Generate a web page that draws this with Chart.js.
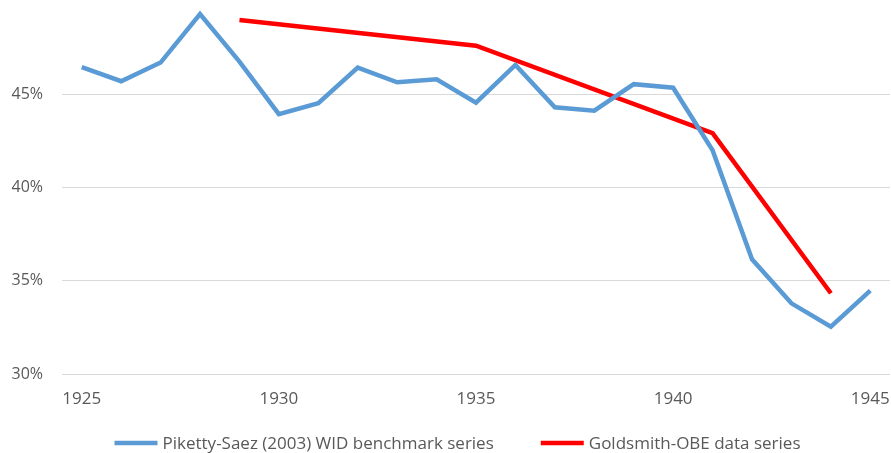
<!DOCTYPE html>
<html>
<head>
<meta charset="utf-8">
<script src="https://cdn.jsdelivr.net/npm/chart.js@4"></script>
<style>
  html, body { margin: 0; padding: 0; background: #fff; }
  #wrap { width: 891px; height: 453px; }
</style>
</head>
<body>
<div id="wrap"><canvas id="myChart"></canvas></div>
<script>
// years on the category axis
const years = [1925, 1926, 1927, 1928, 1929, 1930, 1931, 1932, 1933, 1934, 1935,
  1936, 1937, 1938, 1939, 1940, 1941, 1942, 1943, 1944, 1945]
// Piketty-Saez (2003) WID benchmark series, percent
const pikettySaez = [46.45, 45.7, 46.7, 49.3, 46.75, 43.93, 44.52, 46.43, 45.64, 45.8, 44.55,
  46.57, 44.3, 44.12, 45.54, 45.35, 42.0, 36.15, 33.79, 32.54, 34.47]
// Goldsmith-OBE data series, only a few years
const goldsmithObe = [null, null, null, null, 48.98, null, null, null, null, null, 47.6,
  null, null, null, null, null, 42.91, null, null, 34.33, null]
const yTicks = [30, 35, 40, 45]

const textColor = "#595959"
const fontFamily = "'Open Sans', 'DejaVu Sans', sans-serif"

// legend drawn by hand so the gap between the two entries can be wider than the row padding
const bottomLegend = {
  id: "bottomLegend",
  afterDraw(chart) {
    const c = chart.ctx
    const sets = chart.data.datasets
    const lineLen = 43, textGap = 5, itemGap = 47
    c.save()
    c.font = "17px " + fontFamily
    c.textBaseline = "middle"
    c.fillStyle = textColor
    let total = 0
    sets.forEach((ds, i) => {
      total += lineLen + textGap + c.measureText(ds.label).width + (i > 0 ? itemGap : 0)
    })
    let x = chart.width / 2 + 12 - total / 2
    const y = chart.height - 10
    sets.forEach((ds, i) => {
      if (i > 0) x += itemGap
      c.strokeStyle = ds.borderColor
      c.lineWidth = ds.borderWidth
      c.beginPath()
      c.moveTo(x, y)
      c.lineTo(x + lineLen, y)
      c.stroke()
      x += lineLen + textGap
      c.fillText(ds.label, x, y + 1)
      x += c.measureText(ds.label).width
    })
    c.restore()
  }
}

const ctx = document.getElementById("myChart").getContext("2d")
new Chart(ctx, {
  type: "line",
  data: {
    labels: years.map(String),
    datasets: [
      {
        label: "Piketty-Saez (2003) WID benchmark series",
        data: pikettySaez,
        borderColor: "#5b9bd5",
        backgroundColor: "#5b9bd5",
        borderWidth: 4.5,
        pointRadius: 0,
        tension: 0
      },
      {
        label: "Goldsmith-OBE data series",
        data: goldsmithObe,
        borderColor: "#ff0000",
        backgroundColor: "#ff0000",
        borderWidth: 4.5,
        pointRadius: 0,
        spanGaps: true,
        tension: 0
      }
    ]
  },
  options: {
    responsive: true,
    maintainAspectRatio: false,
    animation: false,
    layout: { padding: { top: 1, left: 11.5, right: 1, bottom: 43.6 } },
    plugins: {
      tooltip: { enabled: false },
      legend: { display: false }
    },
    scales: {
      x: {
        offset: true,
        grid: { display: false, drawTicks: false },
        border: { display: false },
        ticks: {
          color: textColor,
          font: { family: fontFamily, size: 17 },
          autoSkip: false,
          maxRotation: 0,
          padding: 15,
          callback: (v, i) => (years[i] % 5 === 0 ? years[i] : "")
        },
        // the tick padding gets counted twice in the box size, take one back
        afterFit: (s) => {
          s.paddingLeft = 0
          s.paddingRight = 0
          s.height -= s.options.ticks.padding
        }
      },
      y: {
        min: 30,
        max: 50,
        border: { display: false },
        grid: {
          color: (c) => (yTicks.includes(c.tick.value) ? "#d9d9d9" : "rgba(0,0,0,0)"),
          lineWidth: 1,
          drawTicks: false
        },
        ticks: {
          stepSize: 5,
          color: textColor,
          font: { family: fontFamily, size: 16 },
          padding: 19,
          callback: (v) => (yTicks.includes(v) ? v + "%" : "")
        },
        afterFit: (s) => {
          s.paddingTop = 0
          s.paddingBottom = 0
          s.width -= s.options.ticks.padding
        }
      }
    }
  },
  plugins: [bottomLegend]
})
</script>
</body>
</html>
